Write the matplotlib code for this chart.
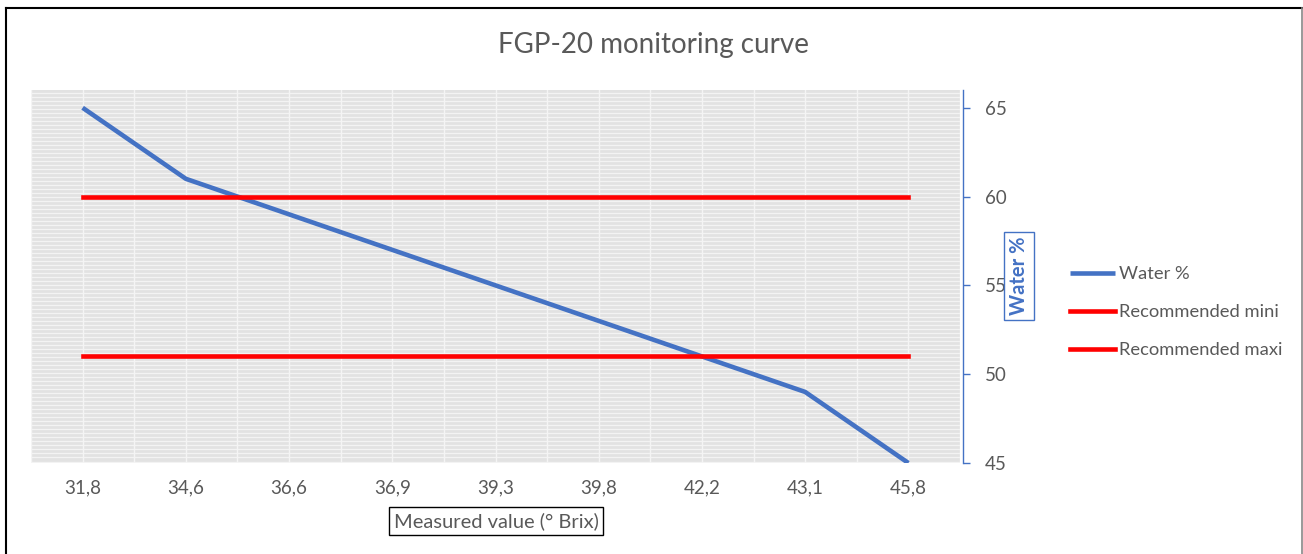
import matplotlib
matplotlib.use("Agg")
import matplotlib.pyplot as plt
import numpy as np

categories = ["31,8", "34,6", "36,6", "36,9", "39,3", "39,8", "42,2", "43,1", "45,8"]
water = [65, 61, 59, 57, 55, 53, 51, 49, 45]
reco_mini = [60] * 9
reco_maxi = [51] * 9
y_ticks = [45, 50, 55, 60, 65]

plt.rcParams['font.family'] = ['Lato', 'DejaVu Sans']
gray = '#595959'
blue = '#4472C4'

fig = plt.figure(figsize=(13.03, 5.54), dpi=100)
ax = fig.add_axes([31/1303, 1-463/554, 929/1303, 373/554])

x = np.arange(len(categories))
ax.set_facecolor('#e2e2e2')
# striped background pattern
stripe_y = np.arange(0.004, 1.0, 1/93)
ax.hlines(stripe_y, 0, 1, transform=ax.transAxes, colors='#f3f3f3', lw=0.9, zorder=0.5)

ax.plot(x, water, color=blue, lw=3.3, label='Water %', zorder=3, solid_capstyle='butt')
ax.plot(x, reco_mini, color='#FF0000', lw=3.3, label='Recommended mini', zorder=3)
ax.plot(x, reco_maxi, color='#FF0000', lw=3.3, label='Recommended maxi', zorder=3)

ax.set_xlim(-0.5, len(categories) - 0.5)
ax.set_ylim(45, 66)
ax.set_xticks(x)
ax.set_xticklabels(categories)
ax.set_xticks(np.arange(-0.5, len(categories), 1.0), minor=True)
ax.grid(True, axis='x', which='both', color='#f4f4f4', lw=1.0, zorder=1)
ax.set_axisbelow(True)
ax.tick_params(axis='x', which='both', length=0, labelsize=13.5, colors=gray, pad=12)

ax.yaxis.tick_right()
ax.set_yticks(y_ticks)
ax.tick_params(axis='y', length=5, width=1, color=blue, labelsize=13.5, labelcolor=gray, pad=11)
for s in ['left', 'top', 'bottom']:
    ax.spines[s].set_visible(False)
ax.spines['right'].set_color(blue)
ax.spines['right'].set_linewidth(1)
ax.spines['right'].set_position(('outward', 2))

fig.text(654/1303, 1-45/554, 'FGP-20 monitoring curve', ha='center', va='center',
         fontsize=20, color=gray)

fig.text(1019/1303, 1-276/554, 'Water %', rotation=90, ha='center', va='center',
         fontsize=14.5, fontweight='bold', color=blue,
         bbox=dict(boxstyle='square,pad=0.25', fc='white', ec=blue, lw=1))

fig.text(496/1303, 1-521/554, 'Measured value (° Brix)', ha='center', va='center',
         fontsize=14.5, color=gray,
         bbox=dict(boxstyle='square,pad=0.25', fc='white', ec='black', lw=1))

leg = fig.legend(loc='center left', bbox_to_anchor=(1053/1303, 1-312/554), frameon=False,
                 fontsize=13.2, labelcolor=gray, handlelength=2.5, handletextpad=0.2,
                 labelspacing=1.2)

# outer chart border
fig.add_artist(plt.Line2D([6/1303, 6/1303], [0, 1-8/554], color='black', lw=1.5, transform=fig.transFigure))
fig.add_artist(plt.Line2D([6/1303, 1302/1303], [1-8/554, 1-8/554], color='black', lw=1.5, transform=fig.transFigure))
fig.add_artist(plt.Line2D([1302/1303, 1302/1303], [0, 1-8/554], color='#888888', lw=1.2, transform=fig.transFigure))

fig.savefig('out.png', dpi=100, facecolor='white')
